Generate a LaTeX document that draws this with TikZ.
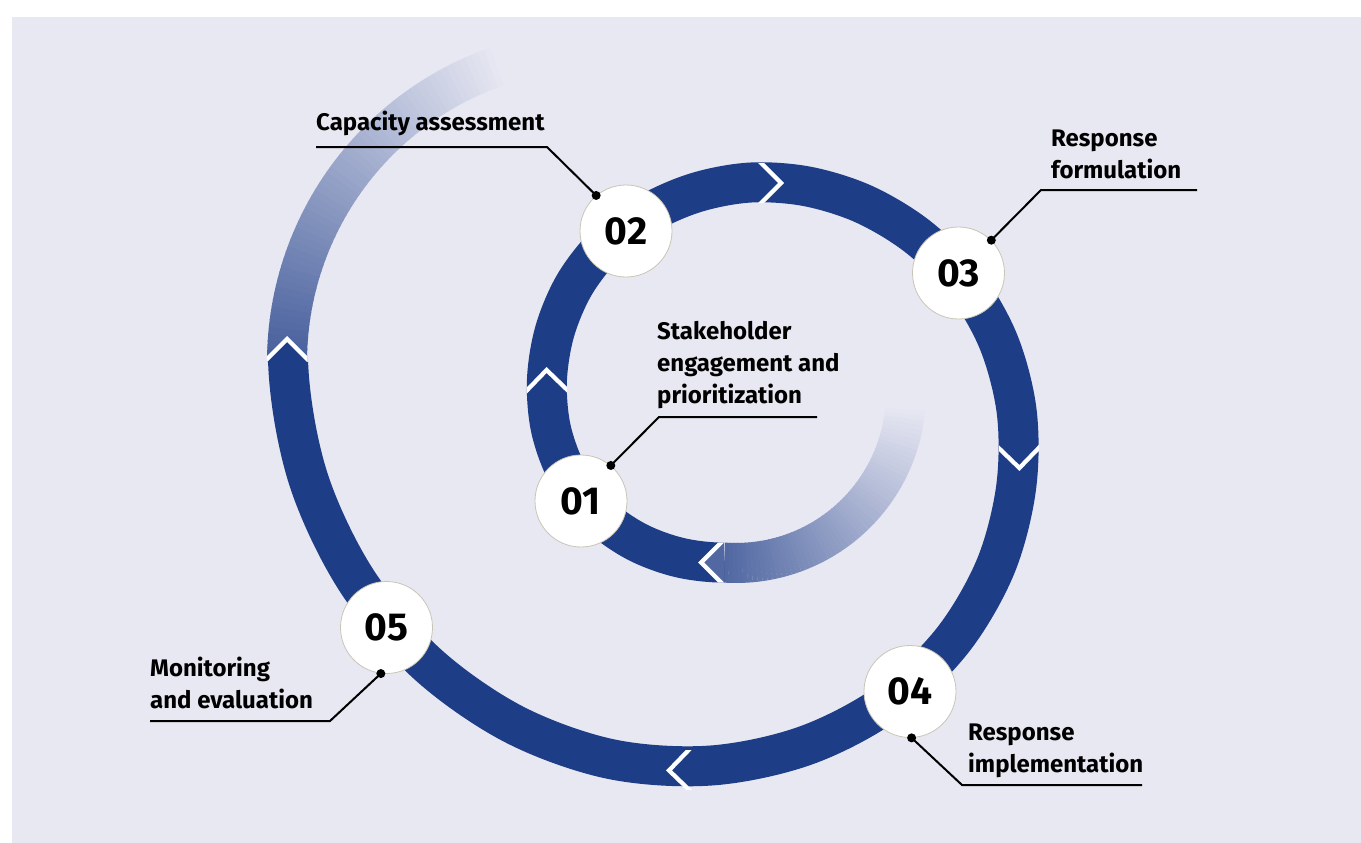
\documentclass[tikz,border=0pt]{standalone}
\usepackage{fontspec}
\setmainfont{Fira Sans}
\definecolor{bandblue}{HTML}{1E3D87}
\definecolor{bgl}{HTML}{E8E8F3}
\definecolor{ringgray}{HTML}{C9C5B4}
\tikzset{
  band/.style={line width=40pt, draw=bandblue},
  numc/.style={circle, fill=white, draw=ringgray, line width=0.8pt, minimum size=92pt, inner sep=0pt, font=\fontsize{39}{39}\selectfont\bfseries},
  lbl/.style={anchor=base west, align=left, inner sep=0pt, font=\fontsize{24}{32}\selectfont\bfseries},
  leader/.style={draw=black, line width=2pt},
  ldot/.style={fill=black},
}
\newcommand{\chevgap}[3]{\fill[white,shift={(#1,#2)},rotate=#3] (0,20)--(20,0)--(0,-20)--(6,-20)--(26,0)--(6,20)--cycle;}
\newcommand{\chevtri}[4]{\fill[#4,shift={(#1,#2)},rotate=#3] (0,20)--(21,0)--(0,-20)--cycle;}
\begin{document}
\begin{tikzpicture}[x=1pt,y=1pt]
\useasboundingbox (0,0) rectangle (1361,-843);
\fill[white] (0,0) rectangle (1361,-843);
\fill[bgl] (12,-17) rectangle (1361,-843);
% inner faded tail
\foreach \i in {0,...,59} {
  \pgfmathsetmacro\aa{-94+\i*1.5}
  \pgfmathsetmacro\ab{\aa+1.7}
  \pgfmathsetmacro\pp{75*(1-\i/59)}
  \draw[line width=40pt, color=bandblue!\pp!bgl] ([shift={(\aa:170)}]736,-393) arc (\aa:\ab:170);
}
% outer faded tail
\foreach \i in {0,...,59} {
  \pgfmathsetmacro\aa{180-\i*1.2}
  \pgfmathsetmacro\ab{\aa-1.4}
  \pgfmathsetmacro\pp{80*(1-\i/59)}
  \draw[line width=40pt, color=bandblue!\pp!bgl] ([shift={(\aa:313)}]600,-362) arc (\aa:\ab:313);
}
% main band (polar spiral around (736,-393)), ends trimmed by clip
\begin{scope}[even odd rule]
\clip (0,0) rectangle (1361,-843)
   (724.1,-480) rectangle (900,-610)
   (0,-362) rectangle (430,0);
\begin{scope}[shift={(736,-393)}]
\draw[band] plot[smooth, tension=0.55] coordinates {
 (-79:167) (-94:170) (-109:174) (-124:179) (-139:184) (-154:187) (-169:188.5) (-184:189.5)
 (-199:191.5) (-214:194.5) (-229:197.5) (-244:200) (-259:204.5) (-274:211)
 (-289:218.5) (-304:228) (-319:239.5) (-334:253.5) (-349:267.5) (-364:281.5)
 (-379:296) (-394:312.5) (-409:329) (-424:345) (-439:359.5) (-454:373.5)
 (-469:387) (-484:399) (-499:411) (-514:423.5) (-529:436.5) (-544:449) (-559:461)};
\end{scope}
\end{scope}
% arrow tips at segment joins
\chevtri{724.1}{-562.6}{180}{bandblue!75!bgl}
\chevtri{287}{-362}{90}{bandblue}
% white chevron gaps
\chevgap{724.1}{-562.6}{180}
\chevgap{547}{-393}{91}
\chevgap{758}{-183}{0}
\chevgap{1019}{-445}{-89}
\chevgap{692}{-770}{181}
\chevgap{287}{-362}{90}
% step circles
\node[numc] (n01) at (581,-501) {01};
\node[numc] (n02) at (626,-231) {02};
\node[numc] (n03) at (958.5,-273) {03};
\node[numc] (n04) at (910,-691.5) {04};
\node[numc] (n05) at (386.5,-627.5) {05};
% labels (anchor = baseline of last line)
\node[lbl] (t01) at (657,-403) {Stakeholder\\engagement and\\prioritization};
\node[lbl] (t02) at (316,-131) {Capacity assessment};
\node[lbl] (t03) at (1051,-178) {Response\\formulation};
\node[lbl] (t04) at (968,-772) {Response\\implementation};
\node[lbl] (t05) at (150,-708) {Monitoring\\and evaluation};
% leader corners
\coordinate (k01) at (659,-417); \coordinate (e01) at (817,-417);
\coordinate (k02) at (547,-147); \coordinate (e02) at (316,-147);
\coordinate (k03) at (1041,-190); \coordinate (e03) at (1197,-190);
\coordinate (k04) at (962,-785); \coordinate (e04) at (1142,-785);
\coordinate (k05) at (330,-721); \coordinate (e05) at (150,-721);
\draw[leader] (n01.50) -- (k01) -- (e01);
\draw[leader] (n02.130) -- (k02) -- (e02);
\draw[leader] (n03.45) -- (k03) -- (e03);
\draw[leader] (n04.-88) -- (k04) -- (e04);
\draw[leader] (n05.-97) -- (k05) -- (e05);
\fill[ldot] (n01.50) circle (4.5);
\fill[ldot] (n02.130) circle (4.5);
\fill[ldot] (n03.45) circle (4.5);
\fill[ldot] (n04.-88) circle (4.5);
\fill[ldot] (n05.-97) circle (4.5);
\end{tikzpicture}
\end{document}
